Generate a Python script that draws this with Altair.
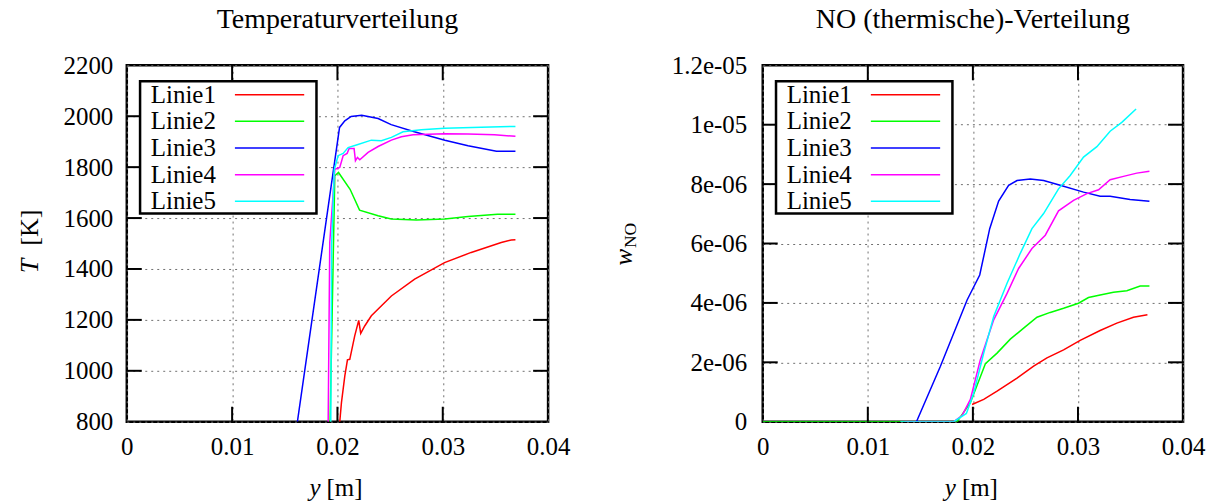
import altair as alt
import pandas as pd

SERIES = ["Linie1", "Linie2", "Linie3", "Linie4", "Linie5"]
COLORS = ["#ff0000", "#00ff00", "#0000ff", "#ff00ff", "#00ffff"]

# ---- Temperaturverteilung: position y [m] and temperature T [K] ----
T_LINIE1_Y = [0.02022, 0.02038, 0.0207, 0.02095, 0.02117, 0.02164, 0.02202, 0.02221, 0.02259,
              0.02322, 0.02512, 0.02733, 0.03017, 0.0327, 0.03555, 0.0365, 0.0369]
T_LINIE1_T = [800, 875, 980, 1043, 1045, 1137, 1198, 1147, 1176,
              1216, 1294, 1360, 1425, 1465, 1504, 1514, 1515]

T_LINIE2_Y = [0.0193, 0.01975, 0.0201, 0.0212, 0.0221, 0.02386, 0.0251, 0.0275, 0.0302, 0.0324,
              0.0352, 0.0369]
T_LINIE2_T = [800, 1766, 1779, 1713, 1631, 1609, 1596, 1592, 1596, 1606, 1615, 1615]

T_LINIE3_Y = [0.0162, 0.0202, 0.0207, 0.0213, 0.0223, 0.02386, 0.0251, 0.0273, 0.0302, 0.0324,
              0.0351, 0.0369]
T_LINIE3_T = [800, 1956, 1982, 1999, 2004, 1991, 1967, 1939, 1906, 1884, 1862, 1862]

T_LINIE4_Y = [0.01912, 0.01927, 0.01975, 0.02022, 0.02054, 0.02092, 0.02111, 0.02158, 0.02171,
              0.0219, 0.02212, 0.02291, 0.02386, 0.02512, 0.02607, 0.02718, 0.03017, 0.03239,
              0.03491, 0.0369]
T_LINIE4_T = [800, 1504, 1792, 1799, 1845, 1854, 1873, 1873, 1825, 1838, 1829, 1858, 1881, 1906,
              1919, 1927, 1931, 1930, 1927, 1921]

T_LINIE5_Y = [0.01937, 0.01945, 0.0197, 0.02006, 0.02054, 0.02101, 0.0218, 0.02322, 0.02417,
              0.02512, 0.02623, 0.02796, 0.03017, 0.03365, 0.0369]
T_LINIE5_T = [800, 1500, 1790, 1845, 1854, 1877, 1887, 1906, 1904, 1917, 1939, 1947, 1953, 1957,
              1960]

# ---- NO (thermische)-Verteilung: position y [m] and mass fraction w_NO ----
W_LINIE1_Y = [0.01992, 0.02103, 0.0223, 0.0242, 0.02578, 0.02705, 0.02863, 0.03021, 0.03211,
              0.0337, 0.03528, 0.03661]
W_LINIE1_W = [0.58e-6, 0.75e-6, 1.03e-6, 1.47e-6, 1.87e-6, 2.15e-6, 2.42e-6, 2.74e-6, 3.07e-6,
              3.32e-6, 3.52e-6, 3.60e-6]

W_LINIE2_Y = [0.0, 0.0185, 0.01976, 0.02119, 0.0223, 0.02356, 0.02483, 0.0261, 0.02736, 0.02863,
              0.03005, 0.031, 0.03211, 0.03338, 0.03465, 0.03592, 0.0368]
W_LINIE2_W = [0.0, 0.0, 0.64e-6, 1.95e-6, 2.31e-6, 2.78e-6, 3.15e-6, 3.52e-6, 3.68e-6, 3.82e-6,
              3.99e-6, 4.18e-6, 4.27e-6, 4.36e-6, 4.41e-6, 4.57e-6, 4.57e-6]

W_LINIE3_Y = [0.01463, 0.01691, 0.01945, 0.02065, 0.0216, 0.02245, 0.0234, 0.0242, 0.02546,
              0.02673, 0.02831, 0.03053, 0.03211, 0.03306, 0.03496, 0.0368]
W_LINIE3_W = [0.0, 1.867e-6, 4.10e-6, 4.94e-6, 6.50e-6, 7.43e-6, 7.96e-6, 8.12e-6, 8.17e-6,
              8.12e-6, 7.96e-6, 7.73e-6, 7.59e-6, 7.59e-6, 7.48e-6, 7.42e-6]

W_LINIE4_Y = [0.0135, 0.01818, 0.01897, 0.01976, 0.02071, 0.02198, 0.02325, 0.02435, 0.02562,
              0.02689, 0.02815, 0.02958, 0.03085, 0.03196, 0.03306, 0.03433, 0.0356, 0.0368]
W_LINIE4_W = [0.0, 0.0, 0.21e-6, 0.75e-6, 2.09e-6, 3.43e-6, 4.32e-6, 5.16e-6, 5.83e-6, 6.28e-6,
              7.10e-6, 7.45e-6, 7.68e-6, 7.81e-6, 8.15e-6, 8.26e-6, 8.37e-6, 8.43e-6]

W_LINIE5_Y = [0.0131, 0.01818, 0.01938, 0.02008, 0.02103, 0.02198, 0.02325, 0.02451, 0.02562,
              0.02673, 0.02815, 0.02926, 0.03053, 0.0318, 0.03306, 0.03417, 0.03553]
W_LINIE5_W = [0.0, 0.0, 0.28e-6, 0.97e-6, 2.31e-6, 3.54e-6, 4.66e-6, 5.67e-6, 6.50e-6, 7.01e-6,
              7.84e-6, 8.29e-6, 8.91e-6, 9.26e-6, 9.78e-6, 10.08e-6, 10.53e-6]

# axis ticks and labels
X_TICKS = [0, 0.01, 0.02, 0.03, 0.04]
T_TICKS = [800, 1000, 1200, 1400, 1600, 1800, 2000, 2200]
W_TICKS = [0, 2e-6, 4e-6, 6e-6, 8e-6, 1e-5, 1.2e-5]
W_TICK_LABELS = ["0", "2e-06", "4e-06", "6e-06", "8e-06", "1e-05", "1.2e-05"]

FONT = "Liberation Serif"
W = 422
H = 357
TICK_LEN = 15


def long_table(pairs):
    rows = []
    for name, (xs, vs) in zip(SERIES, pairs):
        for i, (x, v) in enumerate(zip(xs, vs)):
            rows.append({"series": name, "pos": x, "val": v, "idx": i})
    return pd.DataFrame(rows)


t_data = long_table([(T_LINIE1_Y, T_LINIE1_T), (T_LINIE2_Y, T_LINIE2_T), (T_LINIE3_Y, T_LINIE3_T),
                     (T_LINIE4_Y, T_LINIE4_T), (T_LINIE5_Y, T_LINIE5_T)])
w_data = long_table([(W_LINIE1_Y, W_LINIE1_W), (W_LINIE2_Y, W_LINIE2_W), (W_LINIE3_Y, W_LINIE3_W),
                     (W_LINIE4_Y, W_LINIE4_W), (W_LINIE5_Y, W_LINIE5_W)])


def key_box():
    """Boxed key in the upper left corner: name on the left, line sample on the right."""
    layers = [
        alt.Chart(pd.DataFrame({"k": [0]})).mark_rect(
            fill="white", stroke="black", strokeWidth=2.5).encode(
            x=alt.value(13.3), x2=alt.value(190), y=alt.value(16), y2=alt.value(148.4))
    ]
    for i, (name, col) in enumerate(zip(SERIES, COLORS)):
        yc = 29.4 + i * 26.7
        row = pd.DataFrame({"series": [name]})
        layers.append(alt.Chart(row).mark_text(
            font=FONT, fontSize=25, align="left", baseline="middle", color="black").encode(
            text="series:N", x=alt.value(24), y=alt.value(yc)))
        layers.append(alt.Chart(row).mark_rule(color=col, strokeWidth=1.5).encode(
            x=alt.value(108.3), x2=alt.value(177.7), y=alt.value(yc)))
    return layers


def panel(data, y_scale, y_axis, y_inner, width, title, ytitle_layers):
    x_scale = alt.Scale(domain=[0, 0.04], nice=False, zero=False)
    x_axis = alt.Axis(title=None, values=X_TICKS, format="~g", grid=True, gridColor="#707070",
                      gridDash=[2, 4], gridWidth=1, ticks=False, domain=False, labelPadding=12.5,
                      labelFlush=False, labelOverlap=False, labelFont=FONT, labelFontSize=25,
                      labelColor="black")
    lines = alt.Chart(data).mark_line(strokeWidth=1.5, clip=True).encode(
        x=alt.X("pos:Q", scale=x_scale, axis=x_axis),
        y=alt.Y("val:Q", scale=y_scale, axis=y_axis),
        color=alt.Color("series:N", scale=alt.Scale(domain=SERIES, range=COLORS), legend=None),
        order="idx:Q",
    )
    # inward ticks on all four sides of the frame
    xt = pd.DataFrame({"v": [0.01, 0.02, 0.03]})
    yt = pd.DataFrame({"v": y_inner})
    ticks = [
        alt.Chart(xt).mark_rule(color="black", strokeWidth=2).encode(
            x=alt.X("v:Q", axis=x_axis), y=alt.value(H), y2=alt.value(H - TICK_LEN)),
        alt.Chart(xt).mark_rule(color="black", strokeWidth=2).encode(
            x=alt.X("v:Q", axis=x_axis), y=alt.value(0), y2=alt.value(TICK_LEN)),
        alt.Chart(yt).mark_rule(color="black", strokeWidth=2).encode(
            y=alt.Y("v:Q", axis=y_axis), x=alt.value(0), x2=alt.value(TICK_LEN)),
        alt.Chart(yt).mark_rule(color="black", strokeWidth=2).encode(
            y=alt.Y("v:Q", axis=y_axis), x=alt.value(width - TICK_LEN), x2=alt.value(width)),
    ]

    # x axis title: italic y followed by upright [m]
    xc = width / 2 - 1.5
    xtitle = [
        alt.Chart(pd.DataFrame({"t": ["y"]})).mark_text(
            font=FONT, fontSize=25, fontStyle="italic", align="right", baseline="alphabetic",
            color="black").encode(text="t:N", x=alt.value(xc - 15.5), y=alt.value(H + 74.5)),
        alt.Chart(pd.DataFrame({"t": ["[m]"]})).mark_text(
            font=FONT, fontSize=25, align="left", baseline="alphabetic",
            color="black").encode(text="t:N", x=alt.value(xc - 9.5), y=alt.value(H + 74.5)),
    ]

    layers = [lines] + ticks + key_box() + xtitle + ytitle_layers
    return alt.layer(*layers).properties(
        width=width, height=H,
        title=alt.TitleParams(title, anchor="middle", frame="group", baseline="alphabetic",
                              offset=-3),
    )


# left y axis title: italic T followed by upright [K]
t_title = [
    alt.Chart(pd.DataFrame({"t": ["T"]})).mark_text(
        font=FONT, fontSize=26, fontStyle="italic", align="right", baseline="alphabetic",
        angle=270, color="black").encode(text="t:N", x=alt.value(-88.5), y=alt.value(193.7)),
    alt.Chart(pd.DataFrame({"t": ["[K]"]})).mark_text(
        font=FONT, fontSize=26, align="left", baseline="alphabetic",
        angle=270, color="black").encode(text="t:N", x=alt.value(-88.5), y=alt.value(180.7)),
]

# right y axis title: italic w with subscript NO
wa = H / 2 + 22
w_title = [
    alt.Chart(pd.DataFrame({"t": ["w"]})).mark_text(
        font=FONT, fontSize=25, fontStyle="italic", align="left", baseline="alphabetic",
        angle=270, color="black").encode(text="t:N", x=alt.value(-131), y=alt.value(wa)),
    alt.Chart(pd.DataFrame({"t": ["NO"]})).mark_text(
        font=FONT, fontSize=17.5, align="left", baseline="alphabetic",
        angle=270, color="black").encode(text="t:N", x=alt.value(-127), y=alt.value(wa - 17.5)),
]

t_axis = alt.Axis(title=None, values=T_TICKS, format="d", grid=True, gridColor="#707070",
                  gridDash=[2, 4], gridWidth=1, ticks=False, domain=False, labelPadding=14,
                  labelFlush=False, labelOverlap=False, labelFont=FONT, labelFontSize=25,
                  labelColor="black")
w_label_expr = "[" + ",".join("'" + s + "'" for s in W_TICK_LABELS) + "][round(datum.value / 2e-6)]"
w_axis = alt.Axis(title=None, values=W_TICKS, labelExpr=w_label_expr, grid=True,
                  gridColor="#707070", gridDash=[2, 4], gridWidth=1, ticks=False, domain=False,
                  labelPadding=16, labelFlush=False, labelOverlap=False, labelFont=FONT,
                  labelFontSize=25, labelColor="black")

left = panel(t_data, alt.Scale(domain=[800, 2200], nice=False, zero=False), t_axis,
             [1000, 1200, 1400, 1600, 1800, 2000], W, "Temperaturverteilung", t_title)
right = panel(w_data, alt.Scale(domain=[0, 1.2e-5], nice=False, zero=False), w_axis,
              [2e-6, 4e-6, 6e-6, 8e-6, 1e-5], W - 1, "NO (thermische)-Verteilung", w_title)

chart = alt.hconcat(left, right, spacing=38).properties(
    padding={"left": 16, "top": 4, "right": 5, "bottom": 0}
).configure_view(
    stroke="black", strokeWidth=2.5
).configure_title(
    font=FONT, fontSize=28, fontWeight="normal", color="black"
)

chart.save("out.html", embed_options={"renderer": "svg", "actions": False})
